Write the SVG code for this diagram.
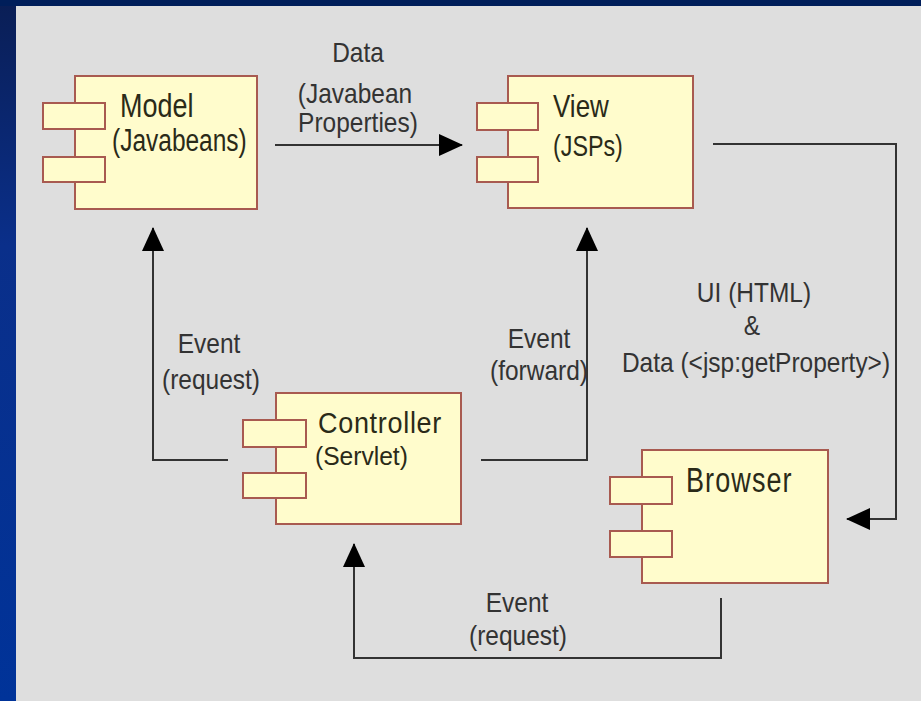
<svg xmlns="http://www.w3.org/2000/svg" width="921" height="701" viewBox="0 0 921 701">
<defs>
<linearGradient id="side" x1="0" y1="0" x2="0" y2="1">
<stop offset="0" stop-color="#0a1e55"/>
<stop offset="0.35" stop-color="#0a2f8a"/>
<stop offset="1" stop-color="#003399"/>
</linearGradient>
<marker id="arr" markerUnits="userSpaceOnUse" markerWidth="24" markerHeight="24" viewBox="0 0 24 24" refX="23" refY="12" orient="auto">
<path d="M0,1 L24,12 L0,23 z" fill="#000"/>
</marker>
<style>
.body{fill:#fffccc;stroke:#a85a50;stroke-width:2}
.port{fill:#fffccc;stroke:#a85a50;stroke-width:2}
.title{font-family:"Liberation Sans",Arial,sans-serif;fill:#2a2a18}
.lbl{font-family:"Liberation Sans",Arial,sans-serif;font-size:24.5px;fill:#333;text-anchor:middle}
.conn{fill:none;stroke:#333;stroke-width:2}
</style>
</defs>
<rect x="0" y="0" width="921" height="701" fill="url(#side)"/>
<rect x="0" y="0" width="921" height="6" fill="#001e5a"/>
<rect x="16" y="6" width="905" height="695" fill="#dedede"/>

<g id="connectors">
<path class="conn" d="M275,145 H462" marker-end="url(#arr)"/>
<path class="conn" d="M713,144 H896 V519 H847" marker-end="url(#arr)"/>
<path class="conn" d="M228,460 H153 V228" marker-end="url(#arr)"/>
<path class="conn" d="M481,460 H587 V228" marker-end="url(#arr)"/>
<path class="conn" d="M721,598 V658 H354 V544" marker-end="url(#arr)"/>
<text class="lbl" transform="translate(358,62) scale(1,1.12)">Data</text>
<text class="lbl" transform="translate(355,103) scale(1,1.12)">(Javabean</text>
<text class="lbl" transform="translate(358,132) scale(1,1.12)">Properties)</text>
<text class="lbl" transform="translate(209,353) scale(1,1.12)">Event</text>
<text class="lbl" transform="translate(211,389) scale(1,1.12)">(request)</text>
<text class="lbl" transform="translate(539,348) scale(1,1.12)">Event</text>
<text class="lbl" transform="translate(539,380) scale(1,1.12)">(forward)</text>
<text class="lbl" transform="translate(517,612) scale(1,1.12)">Event</text>
<text class="lbl" transform="translate(518,645) scale(1,1.12)">(request)</text>
<text class="lbl" transform="translate(754,302) scale(1,1.12)">UI (HTML)</text>
<text class="lbl" transform="translate(752,335) scale(1,1.12)">&amp;</text>
<text class="lbl" transform="translate(756,372) scale(1,1.12)">Data (&lt;jsp:getProperty&gt;)</text>
</g>

<g id="model">
<rect class="body" x="75" y="76" width="182" height="133"/>
<rect class="port" x="43" y="103" width="62" height="26"/>
<rect class="port" x="43" y="157" width="62" height="25"/>
<text class="title" font-size="27" transform="translate(120,117) scale(1,1.24)">Model</text>
<text class="title" font-size="24.5" transform="translate(112,151) scale(1,1.25)">(Javabeans)</text>
</g>

<g id="view">
<rect class="body" x="508" y="76" width="185" height="132"/>
<rect class="port" x="477" y="103" width="61" height="27"/>
<rect class="port" x="477" y="157" width="61" height="25"/>
<text class="title" font-size="26" transform="translate(553,117) scale(1,1.18)">View</text>
<text class="title" font-size="23.3" transform="translate(553,156) scale(1,1.23)">(JSPs)</text>
</g>

<g id="controller">
<rect class="body" x="276" y="393" width="185" height="131"/>
<rect class="port" x="243" y="420" width="63" height="27"/>
<rect class="port" x="243" y="473" width="63" height="25"/>
<text class="title" font-size="27" letter-spacing="0.7" transform="translate(318,433) scale(1,1.09)">Controller</text>
<text class="title" font-size="24.6" transform="translate(315,465) scale(1,1.02)">(Servlet)</text>
</g>

<g id="browser">
<rect class="body" x="642" y="450" width="186" height="133"/>
<rect class="port" x="610" y="477" width="62" height="27"/>
<rect class="port" x="610" y="531" width="62" height="26"/>
<text class="title" font-size="27" letter-spacing="1.1" transform="translate(686,492) scale(1,1.3)">Browser</text>
</g>
</svg>
